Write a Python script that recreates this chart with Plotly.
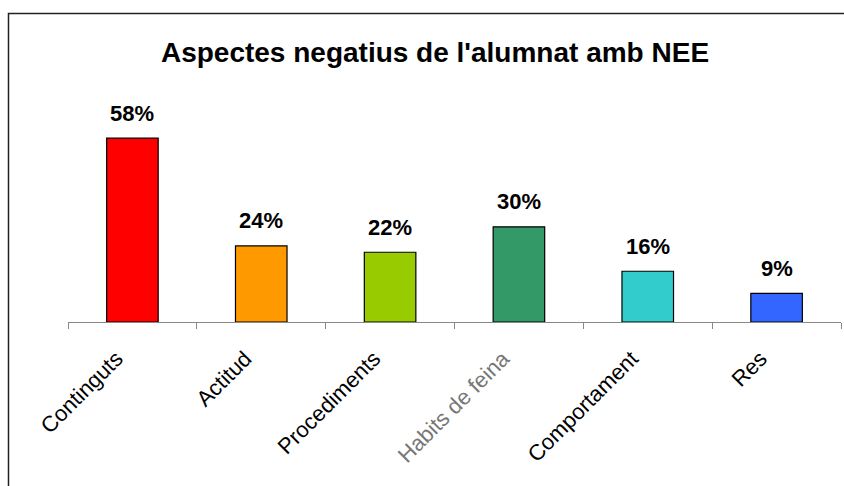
import plotly.graph_objects as go

categories = ["Continguts", "Actitud", "Procediments", "Habits de feina", "Comportament", "Res"]
values = [0.58, 0.24, 0.22, 0.30, 0.16, 0.09]
labels = ["58%", "24%", "22%", "30%", "16%", "9%"]
colors = ["#FF0000", "#FF9900", "#99CC00", "#339966", "#33CCCC", "#3366FF"]

ticktext = [c if c != "Habits de feina" else '<span style="color:#777777">' + c + '</span>' for c in categories]

fig = go.Figure()
fig.add_trace(go.Bar(
    x=categories, y=values,
    marker=dict(color=colors, line=dict(color="black", width=1.2)),
    width=0.4,
))

for c, v, t in zip(categories, values, labels):
    fig.add_annotation(x=c, y=v, text="<b>" + t + "</b>", showarrow=False,
                       yshift=25, yanchor="middle",
                       font=dict(family="Arial", size=22, color="black"))

W, H = 844, 486
ml, mr, mt, mb = 68, 3, 100, 164
pw = W - ml - mr
ph = H - mt - mb

fig.add_shape(type="rect", xref="paper", yref="paper",
              x0=(8.5 - ml) / pw, x1=2, y0=-2, y1=(H - mb - 13.5) / ph,
              line=dict(color="#222222", width=1.5), fillcolor="rgba(0,0,0,0)")

fig.update_layout(
    width=W, height=H,
    margin=dict(l=ml, r=mr, t=mt, b=mb),
    paper_bgcolor="white", plot_bgcolor="white",
    showlegend=False,
    title=dict(text="<b>Aspectes negatius de l'alumnat amb NEE</b>",
               x=435 / W, xanchor="center",
               y=1 - 52 / H, yanchor="middle",
               font=dict(family="Arial", size=28, color="black")),
    font=dict(family="Arial", color="black"),
)
fig.update_xaxes(
    tickmode="array", tickvals=categories, ticktext=ticktext,
    tickangle=-45, tickfont=dict(family="Arial", size=22, color="black"),
    showline=True, linecolor="#888888", linewidth=1.2,
    ticks="outside", ticklen=6, tickcolor="#888888", tickwidth=1.2,
    tickson="boundaries", showgrid=False,
    ticklabelstandoff=14, ticklabelshift=-16,
)
fig.update_yaxes(range=[0, 0.7], visible=False, showgrid=False)

fig.write_html("out.html", config={"displayModeBar": False},
               post_script="document.body.style.margin='0px';")
